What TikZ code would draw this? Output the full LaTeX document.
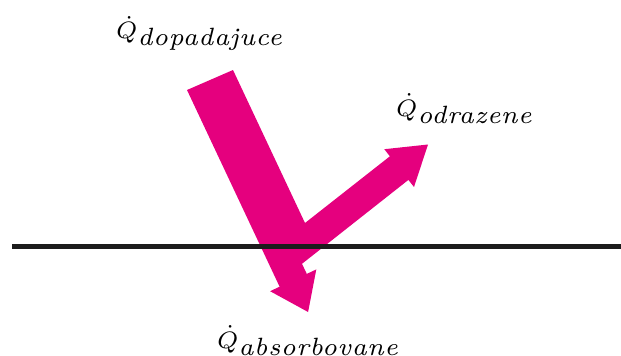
\documentclass[tikz,border=0pt]{standalone}
\usepackage{graphicx}
\usepackage{fontspec}
\newfontfamily\subit[LetterSpace=2]{lmroman7-italic.otf}
\definecolor{rubine}{RGB}{229,0,126}
\definecolor{lineblack}{RGB}{28,28,28}
\tikzset{
  flux/.style={fill=rubine, draw=none},
  surface/.style={draw=lineblack, line width=4.5pt},
  qlabel/.style={anchor=base west, inner sep=0pt},
}
\newcommand{\qsub}[1]{\scalebox{3.4}{$\scriptstyle\dot{Q}$}\raisebox{-7pt}{\fontsize{25}{29}\selectfont\subit #1}}
\begin{document}
\begin{tikzpicture}[x=1pt, y=-1pt]
\useasboundingbox (0,0) rectangle (621,356);
% incoming, reflected and absorbed fluxes as one shape
\fill[flux] (187,90) -- (233,70) -- (305,223)
  -- (389.9,156.3) -- (384.3,149.2) -- (428,144.5) -- (414,187) -- (408.4,179.9)
  -- (302,263.8) -- (306.8,273.9) -- (316.3,269.4) -- (308.1,312)
  -- (270.1,291.2) -- (279.6,286.7) -- cycle;
% surface
\coordinate (sL) at (12,246.5);
\coordinate (sR) at (621,246.5);
\draw[surface] (sL) -- (sR);
% labels
\node[qlabel] (qin) at (116,38.5) {\qsub{dopadajuce}};
\node[qlabel] (qref) at (396,116) {\qsub{odrazene}};
\node[qlabel] (qabs) at (217,348) {\qsub{absorbovane}};
\end{tikzpicture}
\end{document}
